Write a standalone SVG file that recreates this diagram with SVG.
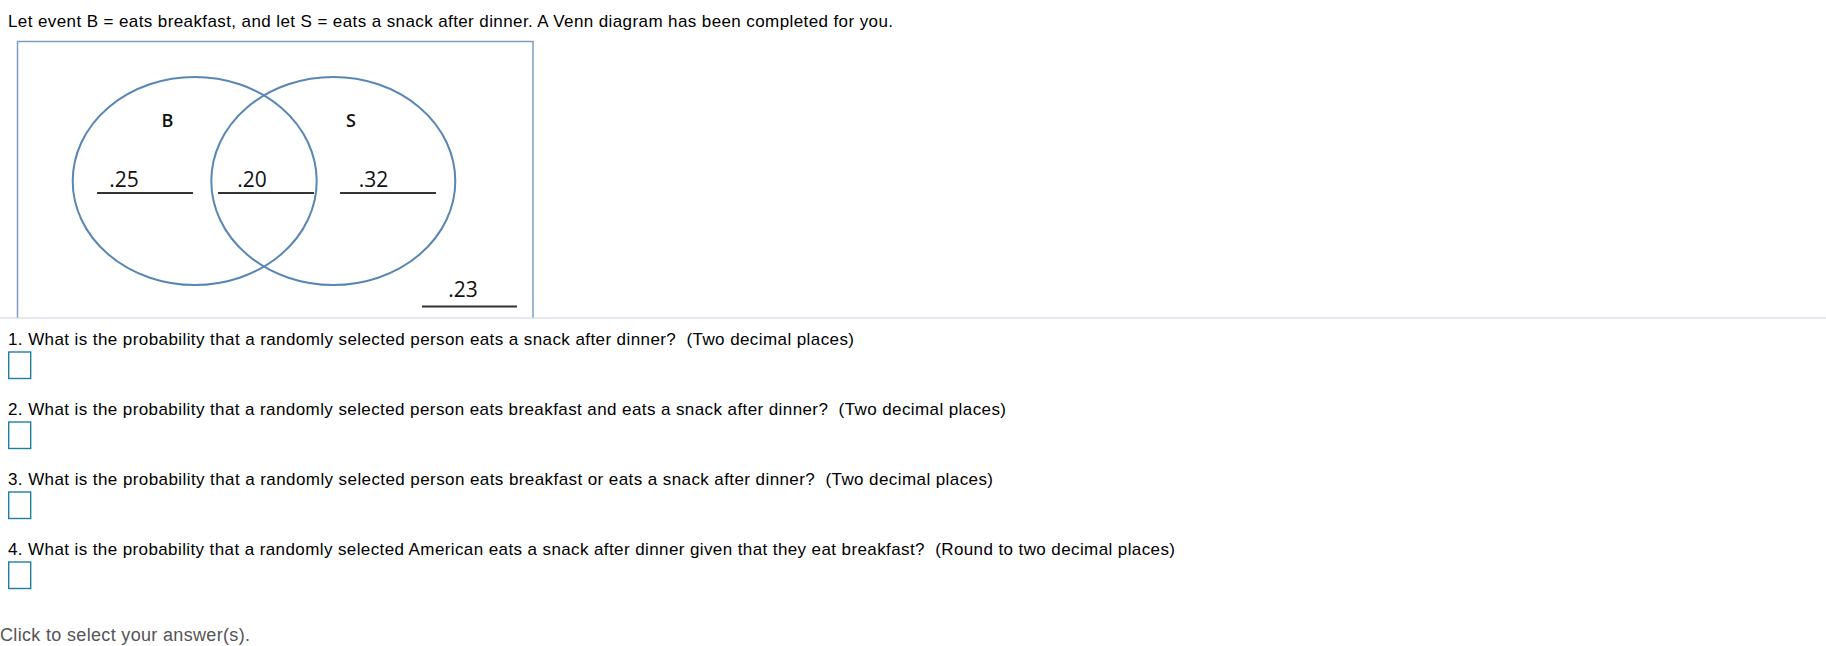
<svg xmlns="http://www.w3.org/2000/svg" width="1826" height="646" viewBox="0 0 1826 646">
<style>
  .txt { font-family: "Liberation Sans", Arial, sans-serif; font-size: 17px; fill: #000; white-space: pre; }
  .hint { fill: #555; font-size: 18px; }
  .venn { font-family: "Open Sans", "Noto Sans", sans-serif; fill: #111; }
  .num { font-size: 21px; }
  .lbl { font-size: 18px; font-weight: 600; }
  .circ { fill: none; stroke: #5a86b4; stroke-width: 2; }
  .uline { stroke: #333; stroke-width: 2; }
  .ans { fill: #fff; stroke: #1f7fa3; stroke-width: 1.4; }
</style>
<rect width="1826" height="646" fill="#fff"/>
<g id="heading">
  <text class="txt" x="8" y="27" textLength="885" lengthAdjust="spacing">Let event B = eats breakfast, and let S = eats a snack after dinner. A Venn diagram has been completed for you.</text>
</g>
<g id="venn-frame">
  <path d="M17.5 318 V41.5 H533 V318" fill="none" stroke="#7d9dc4" stroke-width="1.5"/>
</g>
<g id="circle-B">
  <ellipse class="circ" cx="194.7" cy="181" rx="122" ry="104"/>
  <text class="venn lbl" x="167.5" y="127" text-anchor="middle">B</text>
</g>
<g id="circle-S">
  <ellipse class="circ" cx="333.3" cy="181" rx="122" ry="104"/>
  <text class="venn lbl" x="351" y="127" text-anchor="middle">S</text>
</g>
<g id="region-B-only">
  <text class="venn num" x="124" y="187" text-anchor="middle">.25</text>
  <line class="uline" x1="97" y1="193" x2="193" y2="193"/>
</g>
<g id="region-both">
  <text class="venn num" x="252" y="187" text-anchor="middle">.20</text>
  <line class="uline" x1="218" y1="193" x2="314" y2="193"/>
</g>
<g id="region-S-only">
  <text class="venn num" x="373.5" y="187" text-anchor="middle">.32</text>
  <line class="uline" x1="340" y1="193" x2="436" y2="193"/>
</g>
<g id="region-neither">
  <text class="venn num" x="463" y="297" text-anchor="middle">.23</text>
  <line class="uline" x1="422" y1="306.5" x2="517" y2="306.5"/>
</g>
<g id="divider">
  <line x1="0" y1="318" x2="1826" y2="318" stroke="#c9d2df" stroke-width="1.2"/>
</g>
<g id="connectors"></g>
<g id="question-1">
  <text class="txt" x="8" y="345" textLength="846" lengthAdjust="spacing">1. What is the probability that a randomly selected person eats a snack after dinner?  (Two decimal places)</text>
  <rect class="ans" x="8.7" y="352" width="22" height="26.5"/>
</g>
<g id="question-2">
  <text class="txt" x="8" y="415" textLength="998" lengthAdjust="spacing">2. What is the probability that a randomly selected person eats breakfast and eats a snack after dinner?  (Two decimal places)</text>
  <rect class="ans" x="8.7" y="422" width="22" height="26.5"/>
</g>
<g id="question-3">
  <text class="txt" x="8" y="485" textLength="985" lengthAdjust="spacing">3. What is the probability that a randomly selected person eats breakfast or eats a snack after dinner?  (Two decimal places)</text>
  <rect class="ans" x="8.7" y="492" width="22" height="26.5"/>
</g>
<g id="question-4">
  <text class="txt" x="8" y="555" textLength="1167" lengthAdjust="spacing">4. What is the probability that a randomly selected American eats a snack after dinner given that they eat breakfast?  (Round to two decimal places)</text>
  <rect class="ans" x="8.7" y="562" width="22" height="26.5"/>
</g>
<g id="footer">
  <text class="txt hint" x="0" y="641" textLength="250" lengthAdjust="spacing">Click to select your answer(s).</text>
</g>
</svg>
